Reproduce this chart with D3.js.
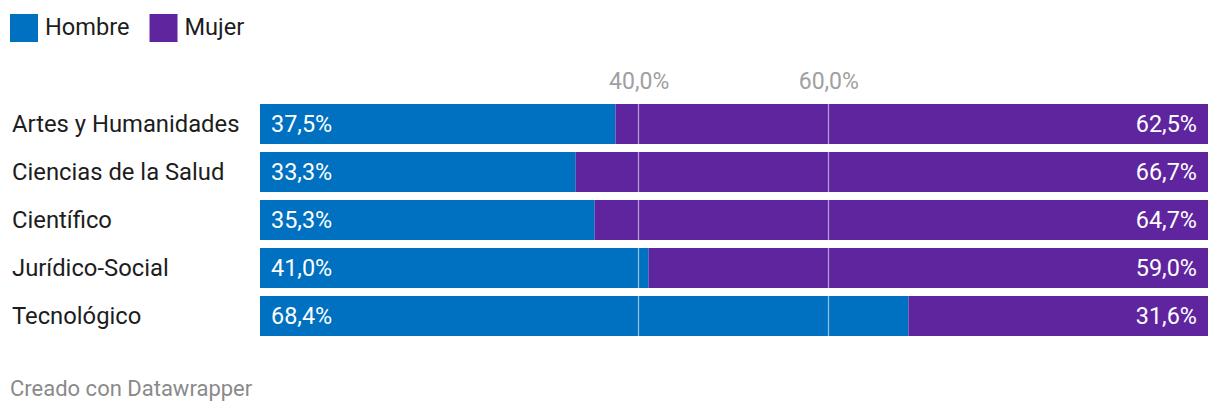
<!DOCTYPE html>
<html>
<head>
<meta charset="utf-8">
<script src="https://cdn.jsdelivr.net/npm/d3@7"></script>
<style>
  body { margin: 0; background: #fff; }
  svg { font-family: Roboto, sans-serif; }
</style>
</head>
<body>
<svg id="chart"></svg>
<script>
const categories = ['Artes y Humanidades', 'Ciencias de la Salud', 'Científico', 'Jurídico-Social', 'Tecnológico']
const hombre = [37.5, 33.3, 35.3, 41.0, 68.4]
const mujer = [62.5, 66.7, 64.7, 59.0, 31.6]
const seriesNames = ['Hombre', 'Mujer']
const colors = ['#0070c0', '#5f259f']
const ticks = [40, 60]

const W = 1220, H = 414
const fmt = v => v.toFixed(1).replace('.', ',') + '%'

const svg = d3.select('#chart').attr('width', W).attr('height', H)

const x = d3.scaleLinear().domain([0, 100]).range([260, 1208])
const y = d3.scaleBand().domain(categories).range([100, 340]).paddingInner(8 / 48).paddingOuter(4 / 48)

// Legend
const legend = svg.append('g')
let lx = 10
seriesNames.forEach((name, i) => {
    legend.append('rect').attr('x', lx).attr('y', 14).attr('width', 28).attr('height', 28).attr('fill', colors[i])
    const t = legend.append('text').attr('x', lx + 35).attr('y', 35)
        .attr('font-size', 23.6).attr('fill', '#1d1d1d').text(name)
    lx += 35 + t.node().getComputedTextLength() + 20
})

// Stacked bars
const rows = categories.map((c, i) => ({ cat: c, h: hombre[i], m: mujer[i] }))
const row = svg.selectAll('g.row').data(rows).join('g').attr('class', 'row')

row.append('rect')
    .attr('x', x(0)).attr('y', d => y(d.cat))
    .attr('width', d => x(d.h) - x(0)).attr('height', y.bandwidth())
    .attr('fill', colors[0])
row.append('rect')
    .attr('x', d => x(d.h)).attr('y', d => y(d.cat))
    .attr('width', d => x(d.h + d.m) - x(d.h)).attr('height', y.bandwidth())
    .attr('fill', colors[1])

// Gridlines over bars
svg.append('g').selectAll('line').data(ticks).join('line')
    .attr('x1', d => Math.round(x(d)) - 0.5).attr('x2', d => Math.round(x(d)) - 0.5)
    .attr('y1', y(categories[0])).attr('y2', y(categories[categories.length - 1]) + y.bandwidth())
    .attr('stroke', '#fff').attr('stroke-opacity', 0.55).attr('stroke-width', 1.3)

// Tick labels
svg.append('g').selectAll('text').data(ticks).join('text')
    .attr('x', d => x(d)).attr('y', 89)
    .attr('text-anchor', 'middle').attr('font-size', 23).attr('fill', '#a0a0a0')
    .text(d => fmt(d))

// Category labels
row.append('text')
    .attr('x', 12).attr('y', d => y(d.cat) + y.bandwidth() / 2 + 8.3)
    .attr('font-size', 23.8).attr('fill', '#1d1d1d')
    .text(d => d.cat)

// Value labels
row.append('text')
    .attr('x', x(0) + 11).attr('y', d => y(d.cat) + y.bandwidth() / 2 + 8.3)
    .attr('font-size', 23.4).attr('fill', '#fff')
    .text(d => fmt(d.h))
row.append('text')
    .attr('x', x(100) - 11).attr('y', d => y(d.cat) + y.bandwidth() / 2 + 8.3)
    .attr('text-anchor', 'end').attr('font-size', 23.4).attr('fill', '#fff')
    .text(d => fmt(d.m))

// Footer
svg.append('text').attr('x', 10).attr('y', 396)
    .attr('font-size', 22).attr('fill', '#8a8a8a')
    .text('Creado con Datawrapper')
</script>
</body>
</html>
